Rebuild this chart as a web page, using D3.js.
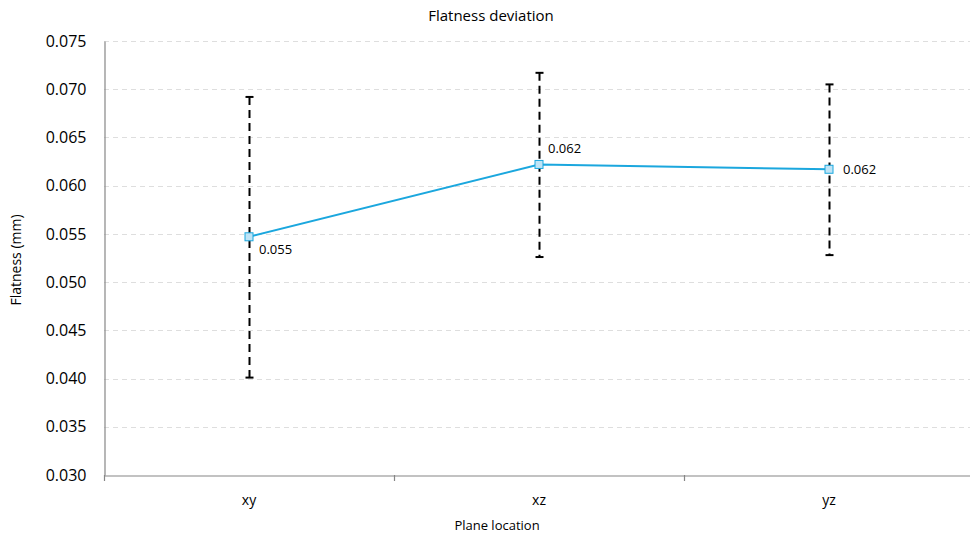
<!DOCTYPE html>
<html>
<head>
<meta charset="utf-8">
<script src="https://cdn.jsdelivr.net/npm/d3@7"></script>
<style>
  body { margin: 0; background: #fff; }
  text { font-family: "Open Sans", "Noto Sans", sans-serif; fill: #000; }
</style>
</head>
<body>
<div id="chart"></div>
<script>
const categories = ['xy', 'xz', 'yz'];
const means = [0.0547, 0.0622, 0.0617];
const upper = [0.0692, 0.0717, 0.0705];
const lower = [0.0401, 0.0526, 0.0528];
const pointLabels = ['0.055', '0.062', '0.062'];
const yTicks = [0.030, 0.035, 0.040, 0.045, 0.050, 0.055, 0.060, 0.065, 0.070, 0.075];

const width = 970, height = 538;
// plot area: x 104..974, y 41..475
const margin = { top: 41, left: 104 };
const plotRight = 974, plotBottom = 475;

const svg = d3.select('#chart').append('svg')
  .attr('width', width)
  .attr('height', height);

const x = d3.scaleBand()
  .domain(categories)
  .range([margin.left, plotRight]);

const y = d3.scaleLinear()
  .domain([0.030, 0.075])
  .range([plotBottom, margin.top]);

// gridlines
svg.append('g')
  .selectAll('line')
  .data(yTicks.slice(1))
  .enter().append('line')
  .attr('x1', margin.left)
  .attr('x2', plotRight)
  .attr('y1', d => Math.round(y(d)) + 0.5)
  .attr('y2', d => Math.round(y(d)) + 0.5)
  .attr('stroke', '#dedede')
  .attr('stroke-width', 1)
  .attr('stroke-dasharray', '5,4');

// y-axis
const yAxis = svg.append('g')
  .attr('transform', 'translate(' + (margin.left + 0.5) + ',0)')
  .call(d3.axisLeft(y).tickValues(yTicks).tickFormat(d3.format('.3f')).tickSize(0).tickPadding(18));
yAxis.select('.domain').attr('stroke', '#868686').attr('stroke-width', 1.2);
yAxis.selectAll('text').style('font-size', '16px').attr('fill', '#000');

// x-axis
const xAxis = svg.append('g')
  .attr('transform', 'translate(0,' + (plotBottom + 0.5) + ')')
  .call(d3.axisBottom(x).tickSize(0).tickPadding(20));
xAxis.select('.domain').attr('stroke', '#868686').attr('stroke-width', 1.2);
xAxis.selectAll('text').style('font-size', '14px').attr('fill', '#000');

// category boundary ticks
const bounds = categories.map(c => x(c)).concat([x(categories[categories.length - 1]) + x.bandwidth()]);
svg.append('g')
  .selectAll('line')
  .data(bounds)
  .enter().append('line')
  .attr('x1', d => Math.round(d) + 0.5)
  .attr('x2', d => Math.round(d) + 0.5)
  .attr('y1', plotBottom)
  .attr('y2', plotBottom + 6)
  .attr('stroke', '#868686')
  .attr('stroke-width', 1.2);

const cx = d => x(d) + x.bandwidth() / 2;

// error bars
const err = svg.append('g');
categories.forEach((c, i) => {
  const px = Math.round(cx(c)) + 0.5;
  err.append('line')
    .attr('x1', px).attr('x2', px)
    .attr('y1', y(upper[i])).attr('y2', y(lower[i]))
    .attr('stroke', '#000')
    .attr('stroke-width', 2)
    .attr('stroke-dasharray', '8,5');
  [upper[i], lower[i]].forEach(v => {
    err.append('line')
      .attr('x1', px - 4).attr('x2', px + 4)
      .attr('y1', y(v)).attr('y2', y(v))
      .attr('stroke', '#000')
      .attr('stroke-width', 2);
  });
});

// mean line
const line = d3.line()
  .x((d, i) => cx(categories[i]))
  .y(d => y(d));

svg.append('path')
  .datum(means)
  .attr('d', line)
  .attr('fill', 'none')
  .attr('stroke', '#1ba7de')
  .attr('stroke-width', 2);

// markers
svg.append('g')
  .selectAll('rect')
  .data(means)
  .enter().append('rect')
  .attr('x', (d, i) => cx(categories[i]) - 4)
  .attr('y', d => y(d) - 4)
  .attr('width', 8)
  .attr('height', 8)
  .attr('fill', '#bfe4f6')
  .attr('stroke', '#1ba7de')
  .attr('stroke-width', 1);

// data labels
const labelOffsets = [[10, 17], [9, -11], [14, 5]];
svg.append('g')
  .selectAll('text')
  .data(means)
  .enter().append('text')
  .attr('x', (d, i) => cx(categories[i]) + labelOffsets[i][0])
  .attr('y', (d, i) => y(d) + labelOffsets[i][1])
  .style('font-size', '13px')
  .text((d, i) => pointLabels[i]);

// title
svg.append('text')
  .attr('x', 491)
  .attr('y', 21)
  .style('text-anchor', 'middle')
  .style('font-size', '15px')
  .text('Flatness deviation');

// axis titles
svg.append('text')
  .attr('x', 497)
  .attr('y', 530)
  .style('text-anchor', 'middle')
  .style('font-size', '13px')
  .text('Plane location');

svg.append('text')
  .attr('transform', 'rotate(-90)')
  .attr('x', -260)
  .attr('y', 21)
  .style('text-anchor', 'middle')
  .style('font-size', '14px')
  .text('Flatness (mm)');
</script>
</body>
</html>
